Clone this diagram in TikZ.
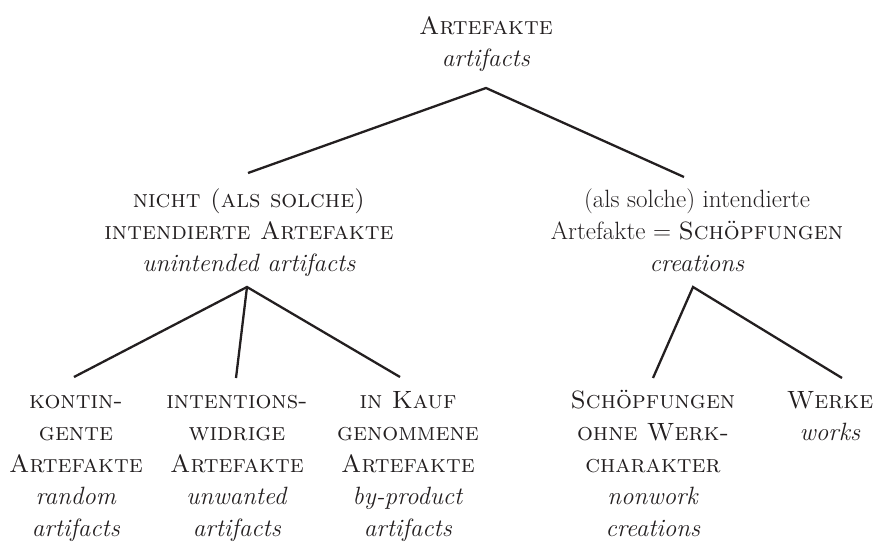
\documentclass[tikz,border=0pt]{standalone}
\definecolor{txt}{RGB}{35,31,32}
\begin{document}
\begin{tikzpicture}[x=1pt,y=-1pt,
  lbl/.style={anchor=north, align=center, inner sep=0pt, text=txt,
              font=\fontsize{25}{32}\selectfont},
  edge/.style={line width=2.3pt, draw=txt, line join=miter}]
\useasboundingbox (0,0) rectangle (876,543);
% text nodes (north anchor = first baseline - strut height 22.4)
\node[lbl] (root) at (486,11.6) {\strut\textsc{Artefakte}\\\textit{artifacts}};
\node[lbl] (mL) at (249,184.6) {\strut\textsc{nicht (als solche)}\\\textsc{intendierte Artefakte}\\\textit{unintended artifacts}};
\node[lbl] (mR) at (697,184.6) {\strut(als solche) intendierte\\Artefakte = \textsc{Schöpfungen}\\\textit{creations}};
\node[lbl] (b1) at (76,385.6) {\strut\textsc{kontin-}\\\textsc{gente}\\\textsc{Artefakte}\\\textit{random}\\\textit{artifacts}};
\node[lbl] (b2) at (237,385.6) {\strut\textsc{intentions-}\\\textsc{widrige}\\\textsc{Artefakte}\\\textit{unwanted}\\\textit{artifacts}};
\node[lbl] (b3) at (408,385.6) {\strut\textsc{in Kauf}\\\textsc{genommene}\\\textsc{Artefakte}\\\textit{by-product}\\\textit{artifacts}};
\node[lbl] (b4) at (653,385.6) {\strut\textsc{Schöpfungen}\\\textsc{ohne Werk-}\\\textsc{charakter}\\\textit{nonwork}\\\textit{creations}};
\node[lbl] (b5) at (830,385.6) {\strut\textsc{Werke}\\\textit{works}};
% connector end points
\coordinate (rootB) at (486,88);
\coordinate (mLT) at (248,173);
\coordinate (mRT) at (684,177);
\coordinate (mLB) at (247,287);
\coordinate (mRB) at (693,287);
\coordinate (b1T) at (74,377);
\coordinate (b2T) at (236,378);
\coordinate (b3T) at (400,377);
\coordinate (b4T) at (653,378);
\coordinate (b5T) at (842,378);
% connectors
\draw[edge] (mLT) -- (rootB) -- (mRT);
\draw[edge] (b1T) -- (mLB) -- (b3T);
\draw[edge] (mLB) -- (b2T);
\draw[edge] (b4T) -- (mRB) -- (b5T);
\end{tikzpicture}
\end{document}
